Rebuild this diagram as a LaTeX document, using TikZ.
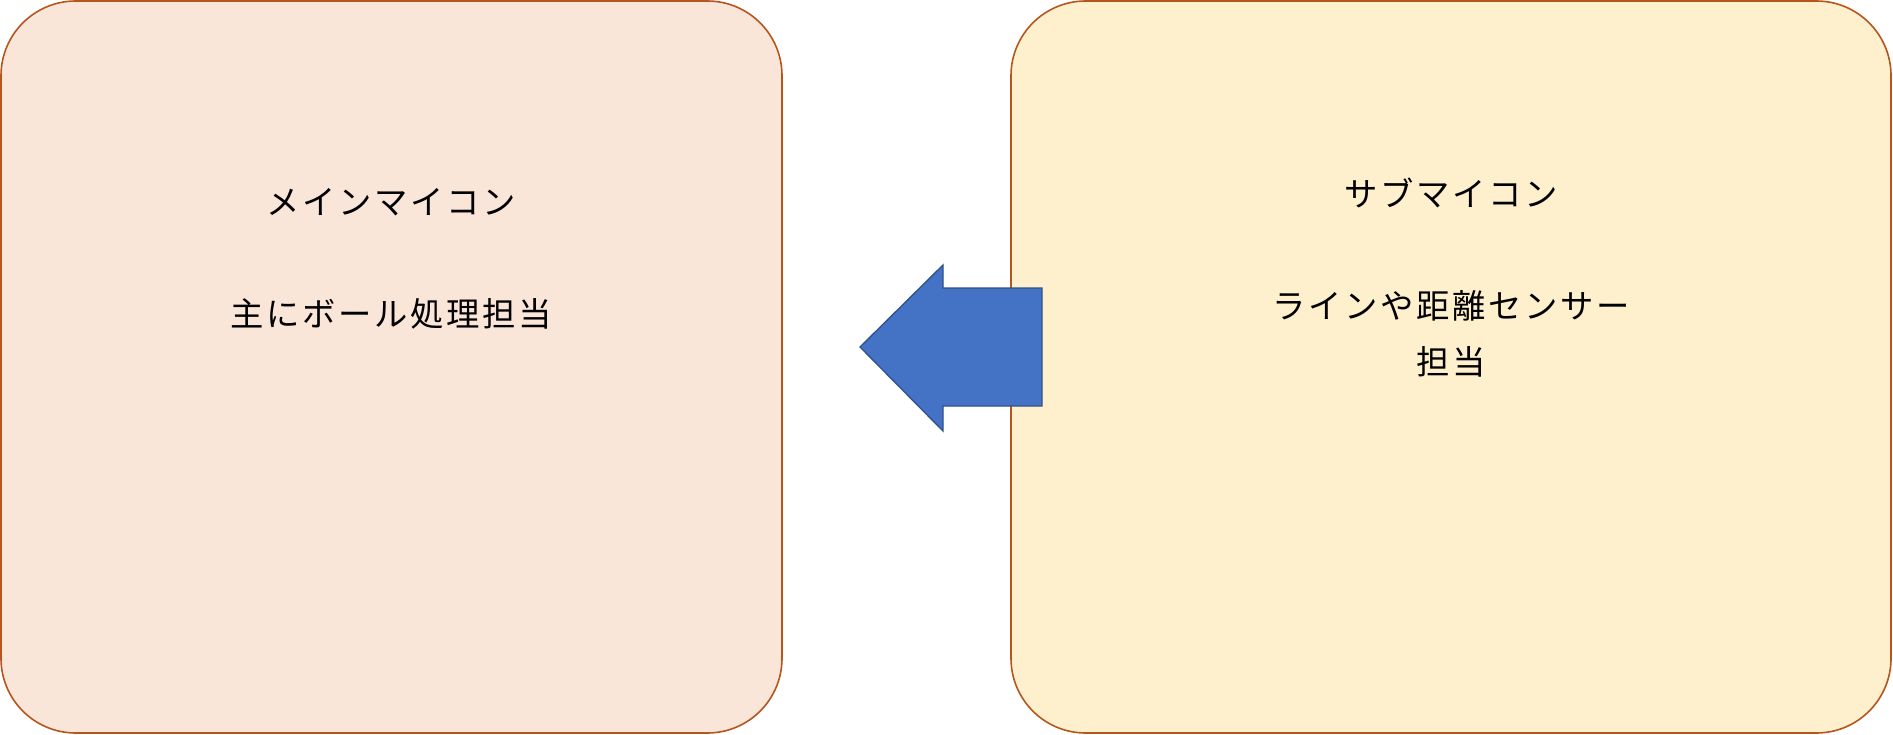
\documentclass[tikz,border=0pt]{standalone}
\usepackage{fontspec}
\newfontfamily\cjk[LetterSpace=8]{Noto Sans CJK JP}
\definecolor{lfill}{HTML}{FAE5D9}
\definecolor{rfill}{HTML}{FFF0CD}
\definecolor{bord}{HTML}{B5561F}
\definecolor{afill}{HTML}{4472C4}
\definecolor{abord}{HTML}{2F528F}
\begin{document}
\begin{tikzpicture}[x=0.75pt,y=-0.75pt,
  box/.style={draw=bord,line width=1.2pt,rounded corners=56pt},
  lbl/.style={font=\cjk\fontsize{25}{42}\selectfont,align=center,text=black}]
\useasboundingbox (0,0) rectangle (1893,735);
\draw[box,fill=lfill] (1,1) rectangle (782,733);
\draw[box,fill=rfill] (1011,1) rectangle (1891,733);
\draw[fill=afill,draw=abord,line width=1pt] (943,288) -- (1042,288) -- (1042,406) -- (943,406) -- (943,431) -- (860,347) -- (943,265) -- cycle;
\node[lbl] (l) at (391,259) {メインマイコン\\\strut\\主にボール処理担当};
\node[lbl] (r) at (1451,278) {サブマイコン\\\strut\\ラインや距離センサー\\担当};
\end{tikzpicture}
\end{document}
